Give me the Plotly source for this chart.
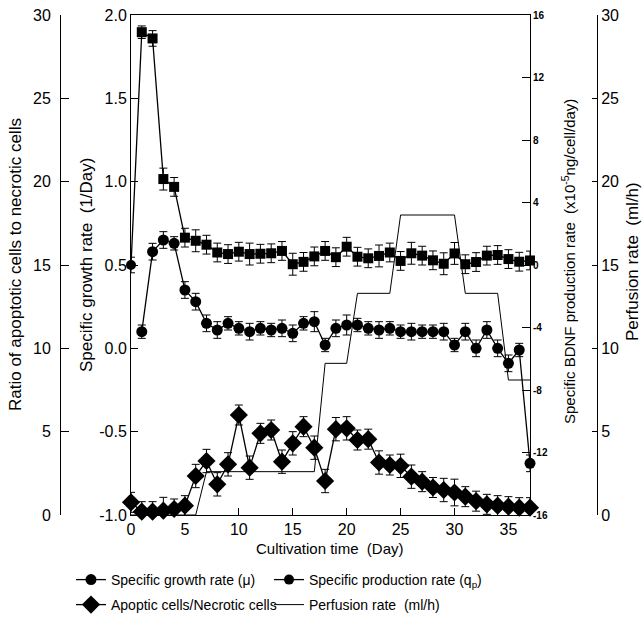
import plotly.graph_objects as go

# ---------------- data ----------------
growth_days = list(range(1, 38))
growth_rate = [0.10, 0.58, 0.65, 0.63, 0.35, 0.28, 0.15, 0.11, 0.15, 0.12,
               0.10, 0.12, 0.11, 0.12, 0.09, 0.15, 0.16, 0.02, 0.12, 0.14,
               0.14, 0.12, 0.11, 0.12, 0.10, 0.10, 0.10, 0.10, 0.10, 0.02,
               0.10, 0.00, 0.11, 0.00, -0.09, -0.01, -0.69]
growth_err = [0.04, 0.05, 0.05, 0.04, 0.05, 0.05, 0.05, 0.05, 0.04, 0.04,
              0.05, 0.04, 0.04, 0.05, 0.05, 0.04, 0.06, 0.04, 0.05, 0.06,
              0.04, 0.04, 0.05, 0.04, 0.04, 0.05, 0.04, 0.04, 0.05, 0.04,
              0.05, 0.05, 0.05, 0.05, 0.05, 0.04, 0.05]

qp_days = list(range(0, 38))
qp_rate = [0.0, 14.9, 14.5, 5.5, 5.0, 1.75, 1.55, 1.3, 0.8, 0.7,
           0.85, 0.7, 0.72, 0.75, 0.9, 0.05, 0.2, 0.55, 0.9, 0.5,
           1.17, 0.53, 0.43, 0.58, 0.8, 0.26, 0.75, 0.6, 0.3, 0.08,
           0.74, 0.05, 0.19, 0.6, 0.64, 0.38, 0.21, 0.29]
qp_err = [0.5, 0.4, 0.5, 0.7, 0.6, 0.6, 0.7, 0.6, 0.6, 0.6,
          0.6, 0.7, 0.6, 0.6, 0.6, 0.7, 0.6, 0.6, 0.6, 0.6,
          0.6, 0.6, 0.6, 0.7, 0.6, 0.6, 0.7, 0.6, 0.6, 0.7,
          0.7, 0.6, 0.6, 0.6, 0.6, 0.6, 0.6, 0.6]

ratio_days = list(range(0, 38))
ratio = [0.76, 0.2, 0.2, 0.26, 0.36, 0.56, 2.34, 3.24, 1.84, 3.04,
         6.0, 2.84, 4.9, 5.1, 3.2, 4.3, 5.3, 4.04, 2.04, 5.15,
         5.2, 4.5, 4.55, 3.15, 3.0, 2.95, 2.3, 2.0, 1.65, 1.5,
         1.35, 1.1, 0.83, 0.64, 0.56, 0.5, 0.44, 0.44]
ratio_err = [0.6, 0.6, 0.6, 0.8, 0.6, 0.6, 0.7, 0.7, 0.7, 0.7,
             0.6, 0.7, 0.6, 0.6, 0.7, 0.7, 0.6, 0.7, 0.7, 0.7,
             0.7, 0.6, 0.6, 0.7, 0.6, 0.7, 0.7, 0.6, 0.6, 0.7,
             0.8, 0.6, 0.6, 0.6, 0.6, 0.6, 0.6, 0.6]

perf_days = [0, 6, 7, 17, 18, 20, 21, 24, 25, 30, 31, 34, 35, 37]
perf_rate = [0, 0, 2.6, 2.6, 9.1, 9.1, 13.3, 13.3, 18, 18, 13.3, 13.3, 8.1, 8.1]

x_ticks = [0, 5, 10, 15, 20, 25, 30, 35]
growth_ticks = [-1.0, -0.5, 0.0, 0.5, 1.0, 1.5, 2.0]
growth_ticktext = ["-1.0", "-0.5", "0.0", "0.5", "1.0", "1.5", "2.0"]
bdnf_ticks = [-16, -12, -8, -4, 0, 4, 8, 12, 16]
bdnf_ticktext = ["-16", "-12", "-8", "-4", "0", "4", "8", "12", "16"]
ratio_ticks = [0, 5, 10, 15, 20, 25, 30]
perf_ticks = [0, 5, 10, 15, 20, 25, 30]

# ---------------- layout helpers ----------------
W, H = 644, 626
FONT = "Liberation Sans, Arial, sans-serif"


def fx(p):
    return p / W


def fy(p):
    return 1 - p / H


err_style = dict(type="data", color="black", thickness=1, width=4)

fig = go.Figure()

fig.add_trace(go.Scatter(
    x=growth_days, y=growth_rate, yaxis="y", mode="lines+markers",
    name="Specific growth rate (\u03bc)",
    error_y=dict(array=growth_err, **err_style),
    marker=dict(symbol="circle", size=11, color="black"),
    line=dict(color="black", width=1.3), cliponaxis=False,
    legend="legend", legendwidth=153))

fig.add_trace(go.Scatter(
    x=qp_days, y=qp_rate, yaxis="y2", mode="lines+markers",
    name="Specific production rate (q<sub>p</sub>)",
    error_y=dict(array=qp_err, **err_style),
    marker=dict(symbol=["circle"] + ["square"] * 37, size=10, color="black"),
    line=dict(color="black", width=1.3), cliponaxis=False,
    legend="legend", legendwidth=230))

fig.add_trace(go.Scatter(
    x=ratio_days, y=ratio, yaxis="y3", mode="lines+markers",
    name="Apoptic cells/Necrotic cells",
    error_y=dict(array=ratio_err, **err_style),
    marker=dict(symbol="diamond", size=14, color="black"),
    line=dict(color="black", width=1.3), cliponaxis=False,
    legend="legend2", legendwidth=153))

fig.add_trace(go.Scatter(
    x=perf_days, y=perf_rate, yaxis="y4", mode="lines",
    name="Perfusion rate \u00a0(ml/h)",
    line=dict(color="black", width=1), cliponaxis=False,
    legend="legend2", legendwidth=230))

ydom = [fy(515), fy(15)]
axis_common = dict(showgrid=False, zeroline=False, showline=True,
                   linecolor="black", linewidth=1, ticks="inside",
                   tickcolor="black", tickwidth=1, automargin=False)

legend_common = dict(orientation="h", xanchor="left", yanchor="top",
                     entrywidthmode="pixels", font=dict(size=14),
                     bgcolor="rgba(0,0,0,0)", itemwidth=30)

fig.update_layout(
    width=W, height=H,
    margin=dict(l=0, r=0, t=0, b=0, autoexpand=False),
    paper_bgcolor="white", plot_bgcolor="white",
    font=dict(family=FONT, size=16, color="black"),
    xaxis=dict(domain=[fx(131), fx(530)], range=[0, 37], tickvals=x_ticks,
               ticklen=7, mirror=True, anchor="y",
               tickfont=dict(size=16), **axis_common),
    yaxis=dict(domain=ydom, range=[-1, 2], tickvals=growth_ticks,
               ticktext=growth_ticktext, ticklen=7, anchor="x",
               tickfont=dict(size=16), **axis_common),
    yaxis2=dict(overlaying="y", side="right", anchor="x", range=[-16, 16],
                tickvals=bdnf_ticks, ticktext=bdnf_ticktext, ticklen=8,
                tickfont=dict(size=10, weight="bold"), **axis_common),
    yaxis3=dict(overlaying="y", side="left", anchor="free",
                position=fx(60), range=[0, 30], tickvals=ratio_ticks,
                ticklen=8, ticklabelstandoff=6,
                tickfont=dict(size=16), **axis_common),
    yaxis4=dict(overlaying="y", side="right", anchor="free",
                position=fx(597), range=[0, 30], tickvals=perf_ticks,
                ticklen=5, tickfont=dict(size=16), **axis_common),
    legend=dict(x=fx(71), y=fy(564), **legend_common),
    legend2=dict(x=fx(71), y=fy(589), **legend_common),
    showlegend=True,
)

annos = [
    dict(x=fx(15), y=fy(265), text="Ratio of apoptotic cells to necrotic cells",
         textangle=-90, size=17),
    dict(x=fx(86), y=fy(265), text="Specific growth rate \u00a0(1/Day)",
         textangle=-90, size=17),
    dict(x=fx(568), y=fy(262),
         text="Specific BDNF production rate \u00a0(x10<sup>-5</sup>ng/cell/day)",
         textangle=-90, size=15),
    dict(x=fx(632), y=fy(262), text="Perfusion rate \u00a0(ml/h)",
         textangle=-90, size=17),
    dict(x=fx(330), y=fy(548), text="Cultivation time \u00a0(Day)",
         textangle=0, size=15),
]
for a in annos:
    size = a.pop("size")
    fig.add_annotation(xref="paper", yref="paper", showarrow=False,
                       xanchor="center", yanchor="middle",
                       font=dict(family=FONT, size=size, color="black"), **a)

fig.write_html("out.html", config={"displayModeBar": False},
               post_script="document.body.style.margin='0px';")
